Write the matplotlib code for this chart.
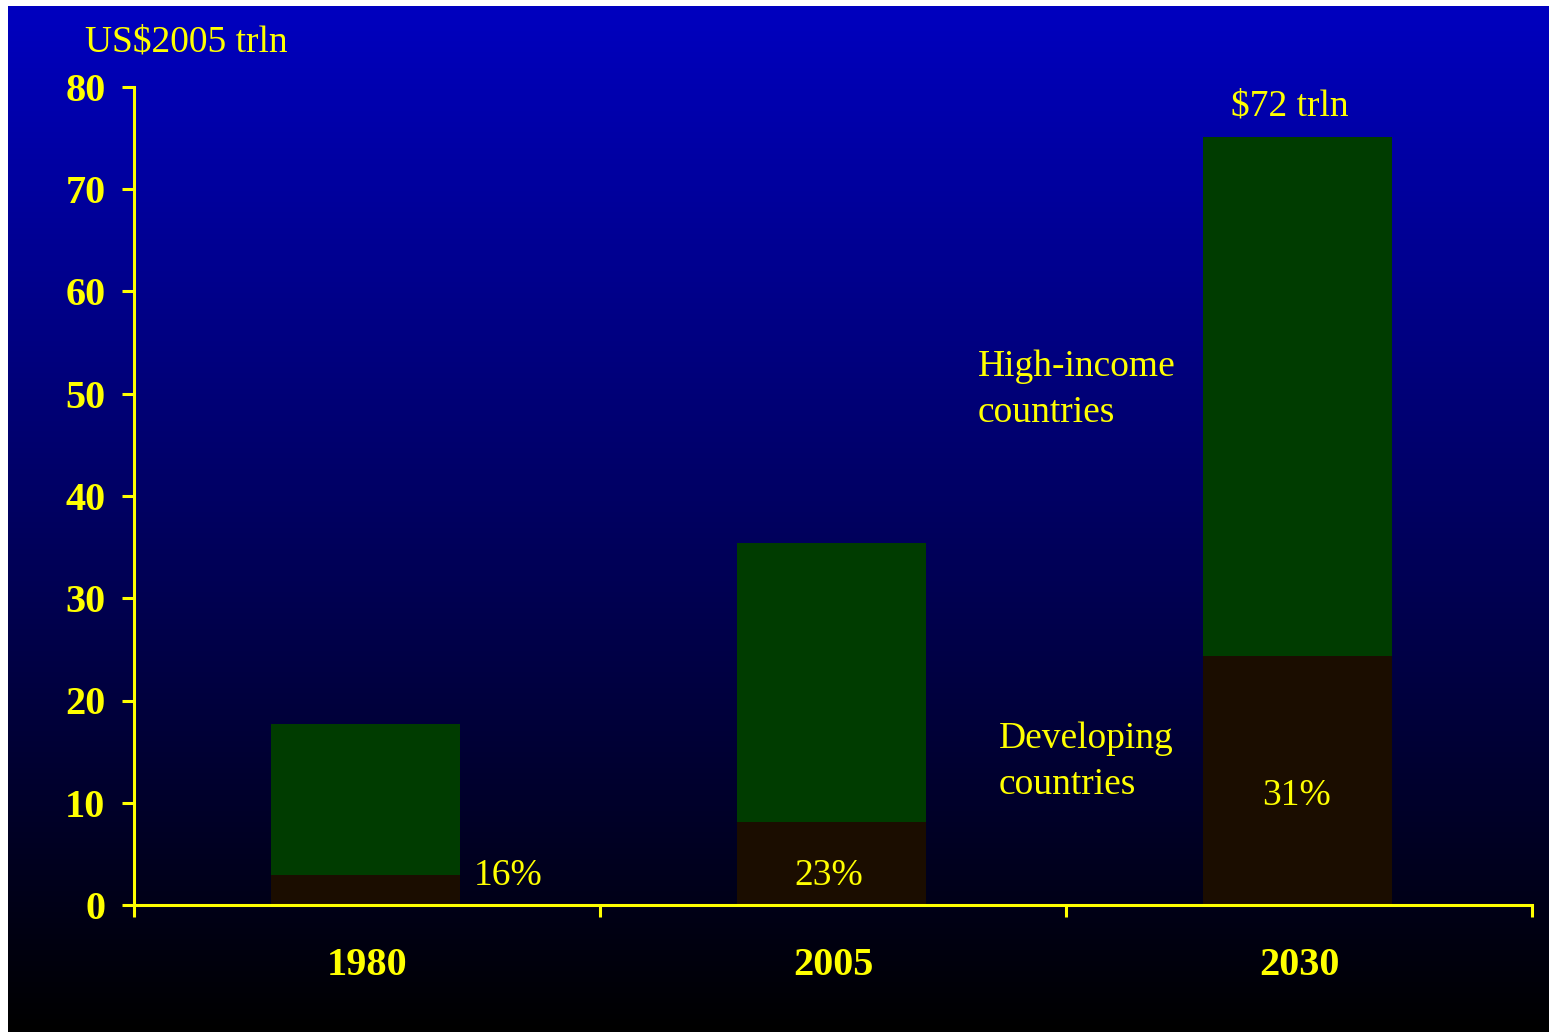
import numpy as np
import matplotlib
matplotlib.use("Agg")
import matplotlib.pyplot as plt

# GDP by country group, US$2005 trillion
years = ["1980", "2005", "2030"]
developing = [2.9, 8.1, 24.4]
high_income = [14.8, 27.3, 50.7]
dev_share = ["16%", "23%", "31%"]
total_label = "$72 trln"

yellow = "#FFFF00"
green = "#003C00"
brown = "#1B0D00"
serif = ["Liberation Serif", "DejaVu Serif"]

W, H = 1549, 1032
fig = plt.figure(figsize=(W / 100, H / 100), dpi=100, facecolor="white")

# blue-to-black backdrop
bg = fig.add_axes([8 / W, 0, 1 - 8 / W, 1 - 6 / H])
grad = np.linspace(1, 0, 256).reshape(-1, 1)
rgb = np.zeros((256, 1, 3))
rgb[:, :, 2] = grad * 0.75
bg.imshow(rgb, aspect="auto", extent=[0, 1, 0, 1], interpolation="bilinear")
bg.set_axis_off()

ax = fig.add_axes([134 / W, 1 - 905 / H, (1532 - 134) / W, (905 - 87) / H])
ax.patch.set_alpha(0)

x = np.arange(len(years))
ax.bar(x - 0.003, developing, width=0.405, color=brown, zorder=2)
ax.bar(x - 0.003, high_income, width=0.405, bottom=developing, color=green,
       zorder=2)

ax.set_xlim(-0.5, 2.5)
ax.set_ylim(0, 80)

for s in ["top", "right"]:
    ax.spines[s].set_visible(False)
for s in ["left", "bottom"]:
    ax.spines[s].set_color(yellow)
    ax.spines[s].set_linewidth(2.2)
    ax.spines[s].set_zorder(3)

ax.set_yticks(range(0, 81, 10))
ax.tick_params(axis="y", colors=yellow, length=8.6, width=2.2, pad=12,
               labelsize=29)
ax.set_xticks([-0.5, 0.5, 1.5, 2.5])
ax.set_xticklabels([])
ax.set_xticks(x, minor=True)
ax.set_xticklabels(years, minor=True)
ax.tick_params(axis="x", which="major", colors=yellow, length=8.6, width=2.2,
               direction="out")
ax.tick_params(axis="x", which="minor", colors=yellow, length=0, pad=30,
               labelsize=29)
for lab in ax.get_yticklabels() + ax.get_xticklabels(minor=True):
    lab.set_fontfamily(serif)
    lab.set_fontweight("bold")
    lab.set_color(yellow)

txt = dict(color=yellow, fontsize=27, family=serif)
fig.text(85 / W, 1 - 42 / H, "US$2005 trln", ha="left", va="center", **txt)

totals = [d + h for d, h in zip(developing, high_income)]
ax.text(x[2] - 0.02, totals[2] + 3, total_label, ha="center", va="center", **txt)

# developing-country share labels
ax.text(x[0] + 0.23, 2.9, dev_share[0], ha="left", va="center", **txt)
ax.text(x[1] - 0.01, 2.9, dev_share[1], ha="center", va="center", **txt)
ax.text(x[2] - 0.005, 10.7, dev_share[2], ha="center", va="center", **txt)

ax.text(1.31, 50.4, "High-income\ncountries", ha="left", va="center",
        linespacing=1.42, **txt)
ax.text(1.355, 14.0, "Developing\ncountries", ha="left", va="center",
        linespacing=1.42, **txt)

fig.savefig("out.png", dpi=100, facecolor="white")
